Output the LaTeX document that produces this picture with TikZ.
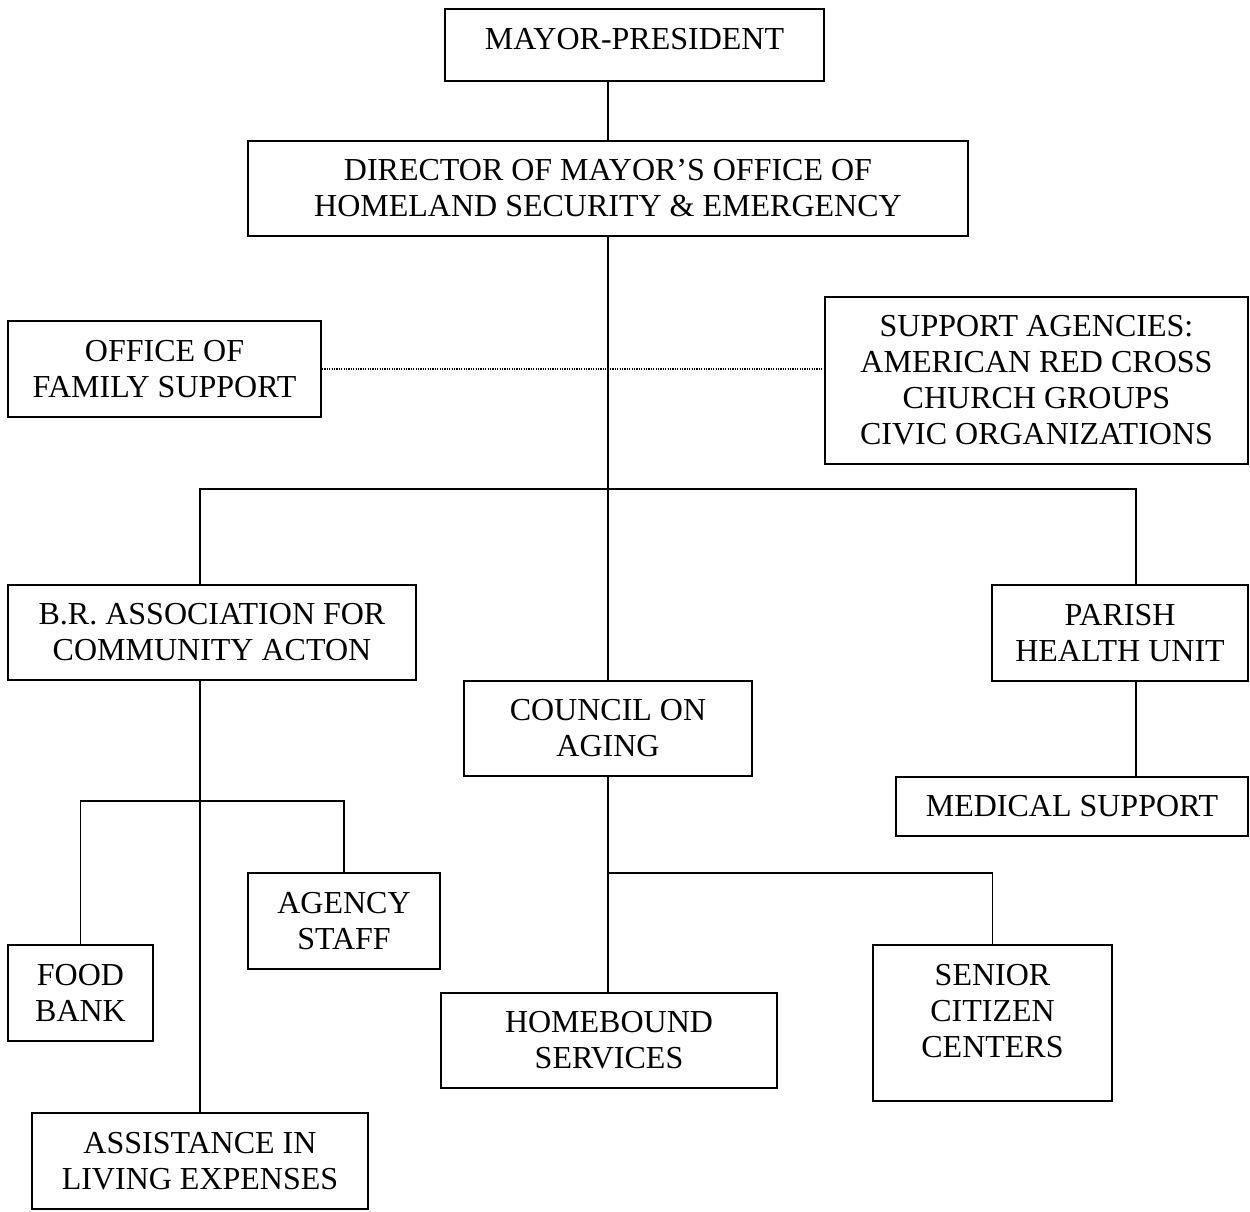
\documentclass[tikz,border=0pt]{standalone}
\usepackage{fontspec}
\setmainfont{Liberation Serif}
\usepackage{tikz}

\begin{document}
\begin{tikzpicture}[x=0.375pt,y=-0.375pt,font=\fontsize{12pt}{13.5pt}\selectfont]
	\useasboundingbox (0,0) rectangle (1250,1211);
	\begin{scope}[every node/.style={rectangle,draw,line width=0.75pt,align=center,inner sep=1pt}]
		\node[minimum width=142.1pt,minimum height=27pt] (mayor) at (634.5,44.5) {MAYOR-PRESIDENT\\[-9pt]};
		\node[minimum width=270pt,minimum height=35.6pt] (dir) at (608,188.5) {DIRECTOR OF MAYOR'S OFFICE OF\\HOMELAND SECURITY \& EMERGENCY};
		\node[minimum width=117.4pt,minimum height=36pt] (fam) at (164.5,369) {OFFICE OF\\FAMILY SUPPORT};
		\node[minimum width=158.6pt,minimum height=62.6pt] (agencies) at (1036.5,380.5) {SUPPORT AGENCIES:\\AMERICAN RED CROSS\\CHURCH GROUPS\\CIVIC ORGANIZATIONS};
		\node[minimum width=153pt,minimum height=35.6pt] (bra) at (212,632.5) {B.R. ASSOCIATION FOR\\COMMUNITY ACTON};
		\node[minimum width=96pt,minimum height=36pt] (parish) at (1120,633) {PARISH\\HEALTH UNIT};
		\node[minimum width=108pt,minimum height=35.6pt] (council) at (608,728.5) {COUNCIL ON\\AGING};
		\node[minimum width=132pt,minimum height=22.1pt] (medical) at (1072,806.5) {MEDICAL SUPPORT};
		\node[minimum width=72pt,minimum height=36pt] (staff) at (344,921) {AGENCY\\STAFF};
		\node[minimum width=54.4pt,minimum height=36pt] (food) at (80.5,993) {FOOD\\BANK};
		\node[minimum width=126pt,minimum height=35.6pt] (home) at (609,1040.5) {HOMEBOUND\\SERVICES};
		\node[minimum width=89.6pt,minimum height=58.5pt] (senior) at (992.5,1023) {SENIOR\\CITIZEN\\CENTERS\\[-4.5pt]};
		\node[minimum width=126pt,minimum height=36pt] (assist) at (200,1161) {ASSISTANCE IN\\LIVING EXPENSES};
	\end{scope}
	
	% junctions of the tree lines
	\coordinate (split) at (608,489);
	\coordinate (pline) at (1136,0);
	\coordinate (fork) at (200,801);
	\coordinate (tee) at (608,873);
	
	\begin{scope}[every path/.style={draw=black,line width=0.6pt}]
		\path (dir.north) -- (dir.north |- mayor.south);
		\path (dir.south) -- (council.north);
		\path [dash pattern=on 0.45pt off 0.45pt,line width=0.45pt] (fam.east) -- (fam.east -| agencies.west);
		\path (bra.north -| assist.north) -- (assist.north |- split) -- (split -| pline) -- (parish.north -| pline);
		\path (assist.north) -- (assist.north |- bra.south);
		\path (food.north) |- (staff.north |- fork) -- (staff.north);
		\path (council.south) -- (council.south |- home.north);
		\path (tee) -| (senior.north);
		\path (parish.south -| pline) -- (medical.north -| pline);
	\end{scope}
\end{tikzpicture}
\end{document}
